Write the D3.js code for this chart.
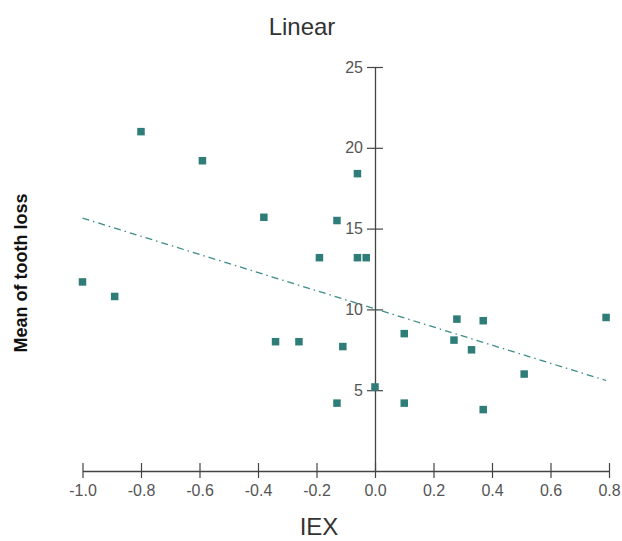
<!DOCTYPE html>
<html>
<head>
<meta charset="utf-8">
<script src="https://cdn.jsdelivr.net/npm/d3@7"></script>
<style>
  html, body { margin: 0; padding: 0; background: #fff; }
  svg { display: block; font-family: "Liberation Sans", Arial, sans-serif; }
</style>
</head>
<body>
<div id="chart"></div>
<script>
// values
const iex = [-1.00, -0.89, -0.80, -0.59, -0.38, -0.34, -0.26, -0.19, -0.13, -0.06, -0.06, -0.03,
             -0.13, -0.11, 0.00, 0.10, 0.10, 0.27, 0.28, 0.33, 0.37, 0.37, 0.51, 0.79];
const toothLoss = [11.7, 10.8, 21.0, 19.2, 15.7, 8.0, 8.0, 13.2, 15.5, 18.4, 13.2, 13.2,
                   4.2, 7.7, 5.2, 8.5, 4.2, 8.1, 9.4, 7.5, 9.3, 3.8, 6.0, 9.5];
const fitX = [-1.0, 0.79];
const fitY = [15.65, 5.6];
const xTicks = [-1.0, -0.8, -0.6, -0.4, -0.2, 0.0, 0.2, 0.4, 0.6, 0.8];
const yTicks = [5, 10, 15, 20, 25];

const W = 622, H = 541;
const svg = d3.select("#chart").append("svg").attr("width", W).attr("height", H);

const x = d3.scaleLinear().domain([-1.0, 0.8]).range([82.5, 609]);
const y = d3.scaleLinear().domain([0, 25]).range([471, 67]);

const axisColor = "#444";
const labelColor = "#555";

// x axis
const xAxisG = svg.append("g").attr("transform", `translate(0,${y(0)})`)
  .call(d3.axisBottom(x).tickValues(xTicks).tickSizeOuter(0).tickFormat(d3.format(".1f")));
xAxisG.select(".domain").attr("stroke", axisColor).attr("stroke-width", 1.3);
xAxisG.selectAll(".tick line").attr("y1", -8).attr("y2", 7).attr("stroke", axisColor).attr("stroke-width", 1.2);
xAxisG.selectAll(".tick text").attr("y", 14).attr("fill", labelColor)
  .style("font-size", "16px").style("font-family", "'Liberation Sans', Arial, sans-serif")
  .text(d => d3.format(".1f")(d).replace("−", "-"));

// y axis sits at x = 0
const yAxisG = svg.append("g").attr("transform", `translate(${x(0)},0)`)
  .call(d3.axisLeft(y).tickValues(yTicks).tickSizeOuter(0));
yAxisG.select(".domain").attr("stroke", axisColor).attr("stroke-width", 1.3);
yAxisG.selectAll(".tick line").attr("x1", -8).attr("x2", 8).attr("stroke", axisColor).attr("stroke-width", 1.2);
yAxisG.selectAll(".tick text").attr("x", -12).attr("fill", labelColor)
  .style("font-size", "16px").style("font-family", "'Liberation Sans', Arial, sans-serif");

// fit line
const fit = fitX.map((v, i) => ({ x: v, y: fitY[i] }));
svg.append("path").datum(fit)
  .attr("fill", "none")
  .attr("stroke", "#3d8c87")
  .attr("stroke-width", 1.3)
  .attr("stroke-dasharray", "7,4,1.5,4")
  .attr("d", d3.line().x(d => x(d.x)).y(d => y(d.y)));

// points
const pts = iex.map((v, i) => ({ x: v, y: toothLoss[i] }));
const s = 7.5;
svg.append("g").selectAll("rect").data(pts).join("rect")
  .attr("x", d => x(d.x) - s / 2)
  .attr("y", d => y(d.y) - s / 2)
  .attr("width", s).attr("height", s)
  .attr("fill", "#2f7d79");

// titles
svg.append("text").attr("x", 302).attr("y", 35).attr("text-anchor", "middle")
  .attr("fill", "#333").style("font-size", "24px").text("Linear");

svg.append("text").attr("x", 319).attr("y", 535).attr("text-anchor", "middle")
  .attr("fill", "#333").style("font-size", "24px").text("IEX");

svg.append("text").attr("transform", "translate(27,273) rotate(-90)").attr("text-anchor", "middle")
  .attr("fill", "#111").style("font-size", "18px").style("font-weight", "bold").text("Mean of tooth loss");
</script>
</body>
</html>
